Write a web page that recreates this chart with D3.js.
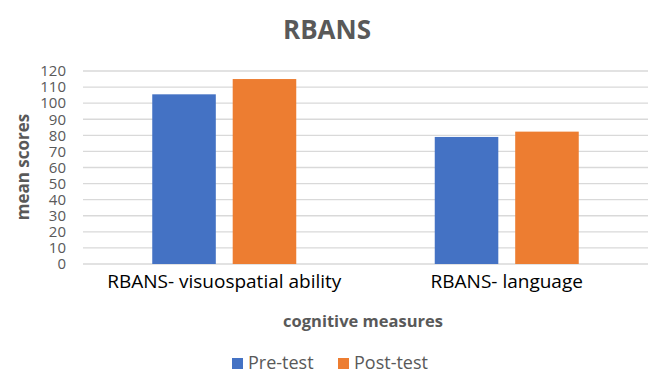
<!DOCTYPE html>
<html>
<head>
<meta charset="utf-8">
<script src="https://cdn.jsdelivr.net/npm/d3@7"></script>
<style>
  body { margin: 0; background: #fff; }
  text { font-family: "Open Sans", "Liberation Sans", sans-serif; }
</style>
</head>
<body>
<script>
// chart data
var categories = ["RBANS- visuospatial ability", "RBANS- language"];
var seriesNames = ["Pre-test", "Post-test"];
var preTest = [105.5, 79];
var postTest = [115, 82.3];
var yTicks = [0, 10, 20, 30, 40, 50, 60, 70, 80, 90, 100, 110, 120];
var colors = ["#4472c4", "#ed7d31"];

var width = 654, height = 373;
var plotLeft = 83, plotRight = 648, plotTop = 71, plotBottom = 264;

var svg = d3.select("body").append("svg")
  .attr("width", width)
  .attr("height", height);

var x = d3.scaleBand()
  .domain(categories)
  .range([plotLeft, plotRight]);

// bars inside a group: ~63px wide with a ~17px gap
var x1 = d3.scaleBand()
  .domain(seriesNames)
  .range([0, 144])
  .paddingInner(0.21);

var y = d3.scaleLinear()
  .domain([0, 120])
  .range([plotBottom, plotTop]);

// gridlines
svg.append("g")
  .selectAll("line")
  .data(yTicks)
  .enter()
  .append("line")
  .attr("x1", plotLeft)
  .attr("x2", plotRight)
  .attr("y1", d => y(d))
  .attr("y2", d => y(d))
  .attr("stroke", "#d9d9d9")
  .attr("stroke-width", 1.3);

// y tick labels
var yAxis = svg.append("g")
  .attr("transform", "translate(" + 69 + ",0)")
  .call(d3.axisLeft(y).tickValues(yTicks).tickSize(0).tickPadding(3));
yAxis.select(".domain").remove();
yAxis.selectAll("text")
  .style("font-family", "'Open Sans', sans-serif")
  .style("font-size", "15px")
  .attr("fill", "#595959");

// bars
var rows = categories.map((c, i) => ({ cat: c, vals: [preTest[i], postTest[i]] }));
var groups = svg.selectAll(".grp")
  .data(rows)
  .enter()
  .append("g")
  .attr("transform", d => "translate(" + (x(d.cat) + x.bandwidth() / 2 - 72) + ",0)");

groups.selectAll("rect")
  .data(d => d.vals.map((v, j) => ({ name: seriesNames[j], v: v, j: j })))
  .enter()
  .append("rect")
  .attr("x", d => x1(d.name))
  .attr("width", x1.bandwidth())
  .attr("y", d => y(d.v))
  .attr("height", d => y(0) - y(d.v))
  .attr("fill", d => colors[d.j]);

// x category labels
var xAxis = svg.append("g")
  .attr("transform", "translate(0," + plotBottom + ")")
  .call(d3.axisBottom(x).tickSize(0).tickPadding(11));
xAxis.select(".domain").remove();
xAxis.selectAll("text")
  .style("font-family", "'Open Sans', sans-serif")
  .style("font-size", "19px")
  .attr("fill", "#000");

// title
svg.append("text")
  .attr("x", 327)
  .attr("y", 39)
  .attr("text-anchor", "middle")
  .style("font-size", "26px")
  .style("font-weight", "bold")
  .attr("fill", "#595959")
  .text("RBANS");

// axis titles
svg.append("text")
  .attr("x", 363)
  .attr("y", 327)
  .attr("text-anchor", "middle")
  .style("font-size", "16.5px")
  .style("font-weight", "bold")
  .attr("fill", "#595959")
  .text("cognitive measures");

svg.append("text")
  .attr("transform", "translate(" + 29 + "," + 167 + ") rotate(-90)")
  .attr("text-anchor", "middle")
  .style("font-size", "17px")
  .style("font-weight", "bold")
  .attr("fill", "#595959")
  .text("mean scores");

// legend
var legendX = [232, 338];
var legend = svg.selectAll(".leg")
  .data(seriesNames)
  .enter()
  .append("g")
  .attr("transform", (d, i) => "translate(" + legendX[i] + "," + 358 + ")");
legend.append("rect")
  .attr("width", 11)
  .attr("height", 11)
  .attr("fill", (d, i) => colors[i]);
legend.append("text")
  .attr("x", 16)
  .attr("y", 11)
  .style("font-size", "18px")
  .attr("fill", "#595959")
  .text(d => d);
</script>
</body>
</html>
